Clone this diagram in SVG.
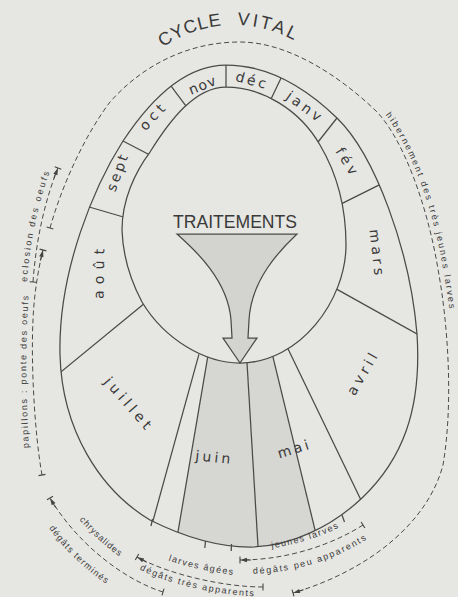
<svg xmlns="http://www.w3.org/2000/svg" width="458" height="597" viewBox="0 0 458 597">
<style>
.ln{fill:none;stroke:#4a4a4a;stroke-width:1.25}
.dv{stroke:#4a4a4a;stroke-width:1.25}
.dash{fill:none;stroke:#4a4a4a;stroke-width:1;stroke-dasharray:5 3}
.mo{font-family:"DejaVu Sans","Liberation Sans",Arial,sans-serif;font-size:14px;fill:#3a3a3a;text-anchor:middle}
.sm{font-family:"Liberation Sans",Arial,sans-serif;font-size:9px;fill:#3a3a3a}
.big{font-family:"Liberation Sans",Arial,sans-serif;fill:#3a3a3a}
</style>
<defs>
<path id="outerP" d="M226,65 C262,65 300,82 337,118 C375,155 410,250 417,334 C422,410 402,460 362,498 C332,526.5 290,547 250,547 C215,547 180,535 150,520 C100,490 62,430 60,355 C58,270 95,185 123,141 C150,100 185,65 226,65 Z"/>
<path id="innerP" d="M226,87 C262,87 300,110 320,145 C336,172 346,205 346,245 C346,300 300,363 240,363 C205,363 165,340 142,302 C133,285 123,260 122,230 C122,200 135,172 150,152 C170,120 195,87 226,87 Z"/>
<clipPath id="ringClip"><path clip-rule="evenodd" d="M226,65 C262,65 300,82 337,118 C375,155 410,250 417,334 C422,410 402,460 362,498 C332,526.5 290,547 250,547 C215,547 180,535 150,520 C100,490 62,430 60,355 C58,270 95,185 123,141 C150,100 185,65 226,65 Z M226,87 C262,87 300,110 320,145 C336,172 346,205 346,245 C346,300 300,363 240,363 C205,363 165,340 142,302 C133,285 123,260 122,230 C122,200 135,172 150,152 C170,120 195,87 226,87 Z"/></clipPath>
<marker id="bar" markerUnits="userSpaceOnUse" markerWidth="14" markerHeight="14" viewBox="-7 -7 14 14" orient="auto" overflow="visible"><line x1="0" y1="-3.5" x2="0" y2="3.5" stroke="#444" stroke-width="1.1"/></marker>
<marker id="arr" markerUnits="userSpaceOnUse" markerWidth="14" markerHeight="14" viewBox="-7 -7 14 14" orient="auto" overflow="visible"><path d="M-11,0 L-6,0" stroke="#444" stroke-width="1"/><path d="M-7,-2.2 L0,0 L-7,2.2 Z" fill="#444"/><line x1="0" y1="-3.5" x2="0" y2="3.5" stroke="#444" stroke-width="1.1"/></marker>
<path id="cvP" d="M162.9,47.4 A124,124 0 0 1 294.1,40.5"/>
<path id="hibP" d="M385.5,115 C408.5,145 432.5,202.5 443.5,271.5 C447.5,294.5 450.5,314 452.5,334"/>
<path id="papP" d="M29,448 C26,400 25,345 29,290"/>
<path id="eclP" d="M27,282 C30,240 39,199 52,166"/>
<path id="jlP" d="M237,551 C287,551 332,534 359,516"/>
<path id="dpaP" d="M245,574 C301,574 346,555 379,531"/>
<path id="laP" d="M135,547 C170,565 225,577 265,577"/>
<path id="dtaP" d="M137,568 C170,586 225,596.5 265,596.5"/>
<path id="chP" d="M57,489 C85,536 132,571 170,583"/>
<path id="dteP" d="M39,513 C67,560 114,595 152,607"/>
</defs>
<rect width="458" height="597" fill="#e6e6e2"/>

<g id="shading" clip-path="url(#ringClip)">
<polygon points="210.6,340 268.9,340 322.3,560 173.3,560" fill="#d6d6d2"/>
</g>

<g id="ring">
<use href="#outerP" class="ln"/>
<use href="#innerP" class="ln"/>
<g clip-path="url(#ringClip)">
<line class="dv" x1="226" y1="58" x2="226" y2="94"/>
<line class="dv" x1="166.8" y1="80.4" x2="190.2" y2="111.6"/>
<line class="dv" x1="116.8" y1="137.8" x2="154.2" y2="157.2"/>
<line class="dv" x1="82.3" y1="205" x2="133.7" y2="220"/>
<line class="dv" x1="54.3" y1="377.3" x2="147.7" y2="300.7"/>
<line class="dv" x1="151.1" y1="527.7" x2="198.9" y2="354.3"/>
<line class="dv" x1="176.8" y1="538.9" x2="208.2" y2="354.1"/>
<line class="dv" x1="258.4" y1="553" x2="246.6" y2="356"/>
<line class="dv" x1="316.7" y1="536.8" x2="271.3" y2="350.2"/>
<line class="dv" x1="363" y1="504.3" x2="287" y2="346.7"/>
<line class="dv" x1="423.1" y1="337.4" x2="333.9" y2="287.6"/>
<line class="dv" x1="383.3" y1="182.9" x2="336.7" y2="206.1"/>
<line class="dv" x1="341.3" y1="112.5" x2="313.7" y2="147.5"/>
<line class="dv" x1="285" y1="69.7" x2="269" y2="103.3"/>
</g>
<g id="ticks">
<line class="dv" x1="152.5" y1="519" x2="151" y2="526"/>
<line class="dv" x1="205.5" y1="541" x2="204.8" y2="548"/>
<line class="dv" x1="231.5" y1="544" x2="231.2" y2="551"/>
<line class="dv" x1="342" y1="515" x2="344.5" y2="522"/>
</g>
</g>

<g id="months">
<text class="mo" transform="translate(202,85) rotate(-22)" dy="5" textLength="28" lengthAdjust="spacing">nov</text>
<text class="mo" transform="translate(251,80) rotate(15)" dy="5" textLength="31" lengthAdjust="spacing">déc</text>
<text class="mo" transform="translate(304,106) rotate(36)" dy="5" textLength="40" lengthAdjust="spacing">janv</text>
<text class="mo" transform="translate(347,161) rotate(58)" dy="5" textLength="29" lengthAdjust="spacing">fév</text>
<text class="mo" transform="translate(377,252) rotate(84)" dy="5" textLength="46" lengthAdjust="spacing">mars</text>
<text class="mo" transform="translate(362,374) rotate(-60)" dy="5" textLength="46" lengthAdjust="spacing">avril</text>
<text class="mo" transform="translate(293,449) rotate(-17)" dy="5" textLength="32" lengthAdjust="spacing">mai</text>
<text class="mo" transform="translate(213,457) rotate(6)" dy="5" textLength="35" lengthAdjust="spacing">juin</text>
<text class="mo" transform="translate(128,403) rotate(49)" dy="5" textLength="64" lengthAdjust="spacing">juillet</text>
<text class="mo" transform="translate(99,274) rotate(-89)" dy="5" textLength="50" lengthAdjust="spacing">août</text>
<text class="mo" transform="translate(117,173) rotate(-70)" dy="5" textLength="38" lengthAdjust="spacing">sept</text>
<text class="mo" transform="translate(152,117) rotate(-47)" dy="5" textLength="30" lengthAdjust="spacing">oct</text>
</g>

<g id="traitements">
<text class="big" x="173" y="228" font-size="19" textLength="124" lengthAdjust="spacingAndGlyphs">TRAITEMENTS</text>
<path d="M177,234 L297,234 C280,250 251,280 249,320 L248,338 L257,338 L240,363 L223,338 L232,338 L231,320 C228,280 195,250 177,234 Z" fill="#d3d3cf" stroke="#4a4a4a" stroke-width="1.25"/>
</g>

<g id="title">
<text class="big" font-size="18"><textPath href="#cvP" textLength="63" lengthAdjust="spacing">CYCLE</textPath></text>
<text class="big" font-size="18"><textPath href="#cvP" startOffset="79" textLength="59" lengthAdjust="spacing">VITAL</textPath></text>
</g>

<g id="connectors">
<path id="hibernement" class="dash" marker-start="url(#bar)" marker-end="url(#arr)" d="M50,228 C62,185 85,135 110,102 C140,68 185,42 240,42 C285,42 335,72 375,110 C402,136 428,205 439,275 C447,320 454,400 443,465 C428,522 370,570 293,593"/>
<path id="papillons" class="dash" marker-start="url(#bar)" marker-end="url(#arr)" d="M42,475 C34,430 31,360 33,320 C34,295 38,270 43,250"/>
<path id="eclosion" class="dash" marker-start="url(#bar)" marker-end="url(#arr)" d="M33,282 C36,240 45,200 58,168"/>
<path id="jeunes" class="dash" marker-start="url(#bar)" marker-end="url(#arr)" d="M363,525 C335,543 290,560 240,560"/>
<path id="agees" class="dash" marker-start="url(#bar)" marker-end="url(#arr)" d="M263,587 C225,587 170,575 137,557"/>
<path id="chrysalides" class="dash" marker-start="url(#bar)" marker-end="url(#arr)" d="M163,592 C125,580 78,545 50,498"/>
</g>

<g id="labels">
<text class="sm" font-size="10"><textPath href="#hibP" textLength="206" lengthAdjust="spacing">hibernement des très jeunes larves</textPath></text>
<text class="sm" font-size="10"><textPath href="#papP" textLength="152" lengthAdjust="spacing">papillons : ponte des oeufs</textPath></text>
<text class="sm" font-size="10"><textPath href="#eclP" textLength="112" lengthAdjust="spacing">eclosion des oeufs</textPath></text>
<text class="sm"><textPath href="#jlP" startOffset="35" textLength="70" lengthAdjust="spacing">jeunes larves</textPath></text>
<text class="sm"><textPath href="#dpaP" startOffset="8" textLength="120" lengthAdjust="spacing">dégâts peu apparents</textPath></text>
<text class="sm"><textPath href="#laP" startOffset="36" textLength="66" lengthAdjust="spacing">larves âgées</textPath></text>
<text class="sm"><textPath href="#dtaP" startOffset="3" textLength="118" lengthAdjust="spacing">dégâts très apparents</textPath></text>
<text class="sm"><textPath href="#chP" startOffset="38" textLength="54" lengthAdjust="spacing">chrysalides</textPath></text>
<text class="sm"><textPath href="#dteP" startOffset="18" textLength="80" lengthAdjust="spacing">dégâts terminés</textPath></text>
</g>
</svg>
